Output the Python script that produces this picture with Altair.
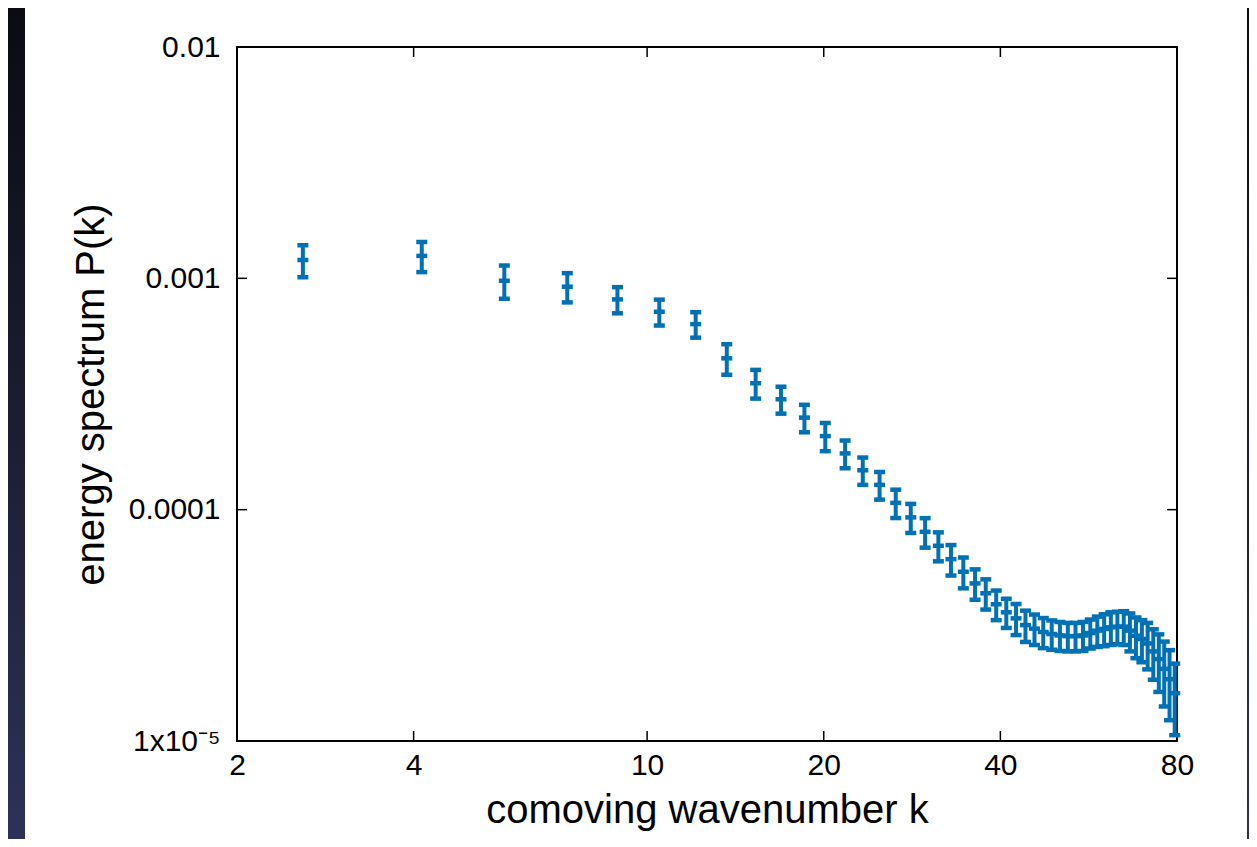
import altair as alt
import pandas as pd

# ---- data ----
k = [2.59, 4.13, 5.71, 7.31, 8.90, 10.49, 12.10, 13.67, 15.31, 16.91,
     18.54, 20.12, 21.75, 23.31, 24.90, 26.53, 28.14, 29.77, 31.36, 32.95,
     34.59, 36.22, 37.77, 39.35, 40.94, 42.54, 44.14, 45.73, 47.33, 48.93,
     50.53, 52.12, 53.72, 55.32, 56.92, 58.52, 60.11, 61.71, 63.31, 64.91,
     66.50, 68.10, 69.70, 71.30, 72.89, 74.49, 76.09, 77.69, 79.28]
P = [1.20e-3, 1.25e-3, 9.76e-4, 9.20e-4, 8.11e-4, 7.17e-4, 6.34e-4, 4.51e-4, 3.52e-4, 3.00e-4,
     2.50e-4, 2.08e-4, 1.75e-4, 1.48e-4, 1.28e-4, 1.07e-4, 9.26e-5, 8.02e-5, 6.98e-5, 6.11e-5,
     5.39e-5, 4.80e-5, 4.35e-5, 3.90e-5, 3.60e-5, 3.39e-5, 3.17e-5, 3.06e-5, 2.96e-5, 2.90e-5,
     2.86e-5, 2.84e-5, 2.84e-5, 2.86e-5, 2.93e-5, 3.00e-5, 3.05e-5, 3.10e-5, 3.12e-5, 3.12e-5,
     3.00e-5, 2.85e-5, 2.76e-5, 2.64e-5, 2.44e-5, 2.26e-5, 2.05e-5, 1.85e-5, 1.61e-5]
dP = [1.90e-4, 1.86e-4, 1.60e-4, 1.33e-4, 1.05e-4, 9.2e-5, 8.0e-5, 6.8e-5, 5.0e-5, 4.0e-5,
      3.4e-5, 2.9e-5, 2.4e-5, 2.0e-5, 1.75e-5, 1.5e-5, 1.33e-5, 1.17e-5, 1.0e-5, 9.2e-6,
      8.2e-6, 7.2e-6, 6.5e-6, 5.7e-6, 5.2e-6, 5.2e-6, 4.9e-6, 4.6e-6, 4.4e-6, 4.2e-6,
      4.1e-6, 4.0e-6, 4.0e-6, 4.1e-6, 4.2e-6, 4.5e-6, 4.8e-6, 5.0e-6, 5.0e-6, 5.2e-6,
      5.6e-6, 5.7e-6, 5.7e-6, 6.0e-6, 6.0e-6, 6.3e-6, 6.4e-6, 6.2e-6, 5.5e-6]

x_ticks = [2, 4, 10, 20, 40, 80]
y_ticks = [1e-5, 1e-4, 1e-3, 1e-2]

x_title = "comoving wavenumber k"
y_title = "energy spectrum P(k)"

df = pd.DataFrame({"k": k, "P": P, "dP": dP})
df["lo"] = df["P"] - df["dP"]
df["hi"] = df["P"] + df["dP"]

W, H = 940, 694
BLUE = "#0071b5"
FONT = "Liberation Sans"

xs = alt.Scale(type="log", domain=[2, 80], nice=False)
ys = alt.Scale(type="log", domain=[1e-5, 1e-2], nice=False)

x_axis = alt.Axis(values=x_ticks, labelExpr="datum.value + ''", ticks=False, domain=False,
                  grid=False, labelFontSize=30, labelPadding=9, labelFont=FONT,
                  labelColor="black", labelFlush=False, labelOverlap=False,
                  title=x_title, titleFontSize=40, titleFont=FONT, titleFontWeight="normal",
                  titleColor="black", titleY=81, titleBaseline="alphabetic")
y_axis = alt.Axis(values=y_ticks,
                  labelExpr="datum.value > 0.005 ? '0.01' : datum.value > 0.0005 ? '0.001' : datum.value > 0.00005 ? '0.0001' : '1x10⁻⁵'",
                  ticks=False, domain=False, grid=False, labelFontSize=30, labelPadding=17,
                  labelFont=FONT, labelColor="black", labelFlush=False, labelOverlap=False,
                  labelBaseline="middle",
                  title=y_title, titleFontSize=40, titleFont=FONT, titleFontWeight="normal",
                  titleColor="black", titleX=-134, titleY=H / 2, titleAngle=270,
                  titleAlign="center", titleBaseline="alphabetic")

grad = alt.LinearGradient(gradient="linear",
                          stops=[alt.GradientStop(color="#0b0b12", offset=0),
                                 alt.GradientStop(color="#1c1d33", offset=0.5),
                                 alt.GradientStop(color="#2e3159", offset=1)],
                          x1=0, x2=0, y1=0, y2=1)
one = pd.DataFrame({"a": [0]})
left_strip = alt.Chart(one).mark_rect(color=grad).encode(
    x=alt.value(-229), x2=alt.value(-212), y=alt.value(-39), y2=alt.value(H + 98))
right_strip = alt.Chart(one).mark_rect(color=grad).encode(
    x=alt.value(W + 70), x2=alt.value(W + 72), y=alt.value(-39), y2=alt.value(H + 98))

bars = alt.Chart(df).mark_rule(color=BLUE, strokeWidth=4).encode(
    x=alt.X("k:Q", scale=xs, axis=x_axis),
    y=alt.Y("lo:Q", scale=ys, axis=y_axis),
    y2="hi:Q")

caps = alt.Chart(df).transform_fold(["lo", "hi", "P"], as_=["part", "val"]).mark_tick(
    color=BLUE, orient="horizontal", size=11, thickness=4.5, opacity=1).encode(
    x=alt.X("k:Q", scale=xs, axis=x_axis),
    y=alt.Y("val:Q", scale=ys, axis=y_axis))

xt_df = pd.DataFrame({"xt": x_ticks})
yt_df = pd.DataFrame({"yt": y_ticks})
xt_bot = alt.Chart(xt_df).mark_rule(color="black", strokeWidth=1.5).encode(
    x=alt.X("xt:Q", scale=xs, axis=x_axis), y=alt.value(H - 10), y2=alt.value(H))
xt_top = alt.Chart(xt_df).mark_rule(color="black", strokeWidth=1.5).encode(
    x=alt.X("xt:Q", scale=xs, axis=x_axis), y=alt.value(0), y2=alt.value(10))
yt_left = alt.Chart(yt_df).mark_rule(color="black", strokeWidth=1.5).encode(
    y=alt.Y("yt:Q", scale=ys, axis=y_axis), x=alt.value(0), x2=alt.value(10))
yt_right = alt.Chart(yt_df).mark_rule(color="black", strokeWidth=1.5).encode(
    y=alt.Y("yt:Q", scale=ys, axis=y_axis), x=alt.value(W - 10), x2=alt.value(W))

chart = alt.layer(left_strip, right_strip, xt_bot, xt_top, yt_left, yt_right, bars, caps).properties(
    width=W, height=H, autosize="none",
    padding={"left": 229, "top": 39, "right": 72, "bottom": 98},
    background="white",
).configure_view(stroke="black", strokeWidth=2)

chart.save("out.html", embed_options={"renderer": "svg", "actions": False})
